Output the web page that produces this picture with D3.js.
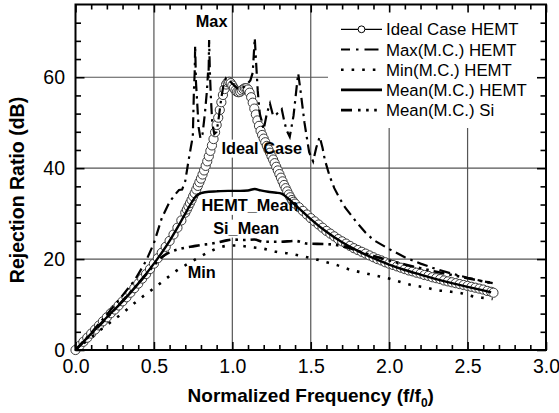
<!DOCTYPE html>
<html><head><meta charset="utf-8">
<script src="https://cdn.jsdelivr.net/npm/d3@7/dist/d3.min.js"></script>
<style>body{margin:0;background:#fff}svg{display:block}text{font-family:"Liberation Sans",Arial,sans-serif;fill:#000}</style>
</head><body><svg id="c" width="559" height="413"></svg>
<script>
// ---------- data ----------
const xMajorTicks = [0, 0.5, 1.0, 1.5, 2.0, 2.5, 3.0];
const xTickLabels = ["0.0", "0.5", "1.0", "1.5", "2.0", "2.5", "3.0"];
const xMinorTicks = [0.1,0.2,0.3,0.4,0.6,0.7,0.8,0.9,1.1,1.2,1.3,1.4,1.6,1.7,1.8,1.9,2.1,2.2,2.3,2.4,2.6,2.7,2.8,2.9];
const yMajorTicks = [0, 20, 40, 60];
const yTickLabels = ["0", "20", "40", "60"];
const yMinorTicks = [4,8,12,16,24,28,32,36,44,48,52,56,64,68,72];
const xGrid = [0.5, 1.0, 1.5, 2.0, 2.5];
const yGrid = [20, 40, 60];

const seriesNames = ["Ideal Case HEMT", "Max(M.C.) HEMT", "Min(M.C.) HEMT", "Mean(M.C.) HEMT", "Mean(M.C.) Si"];

const idealCase = [[0,0],[0.025,0.9],[0.05,1.8],[0.075,2.7],[0.1,3.6],[0.125,4.5],[0.15,5.4],[0.175,6.3],[0.2,7.2],[0.225,8.1],[0.25,8.9],[0.275,9.8],[0.3,10.7],[0.325,11.6],[0.35,12.6],[0.375,13.6],[0.4,14.6],[0.425,15.7],[0.45,16.7],[0.475,17.8],[0.5,19.0],[0.525,20.2],[0.55,21.4],[0.575,22.7],[0.6,24.0],[0.625,25.4],[0.65,26.9],[0.675,28.5],[0.7,30.2],
[0.71,30.9],[0.72,31.6],[0.73,32.3],[0.74,33.0],[0.75,33.8],[0.76,34.5],[0.77,35.3],[0.78,36.1],[0.79,36.9],[0.8,37.7],[0.81,38.6],[0.82,39.5],[0.83,40.5],[0.84,41.5],[0.85,42.6],[0.86,43.8],[0.87,45.0],[0.88,46.4],[0.89,47.9],[0.9,49.5],[0.91,51.1],[0.92,52.8],[0.93,54.5],[0.94,56.1],[0.95,57.4],[0.96,58.4],[0.97,58.9],[0.98,59.0],[0.99,58.7],[1.0,58.2],[1.01,57.6],[1.02,57.1],[1.03,56.8],[1.04,56.7],[1.05,56.8],[1.06,57.1],[1.07,57.4],[1.08,57.6],[1.09,57.6],[1.1,57.3],[1.11,56.6],[1.12,55.6],[1.13,54.4],[1.14,53.1],[1.15,51.8],[1.16,50.5],[1.17,49.3],[1.18,48.2],[1.19,47.3],[1.2,46.5],[1.21,45.7],[1.22,44.9],[1.23,44.1],[1.24,43.4],[1.25,42.6],[1.26,41.9],[1.27,41.1],[1.28,40.3],[1.29,39.5],[1.3,38.7],[1.31,37.9],[1.32,37.1],[1.33,36.3],[1.34,35.6],[1.35,34.9],[1.36,34.2],[1.37,33.6],[1.38,33.0],[1.39,32.6],[1.4,32.2],
[1.425,31.4],[1.45,30.6],[1.475,29.8],[1.5,29.0],[1.525,28.3],[1.55,27.6],[1.575,26.9],[1.6,26.2],[1.625,25.6],[1.65,25.0],[1.675,24.4],[1.7,23.9],[1.725,23.4],[1.75,22.9],[1.775,22.4],[1.8,22.0],[1.825,21.6],[1.85,21.2],[1.875,20.8],[1.9,20.4],[1.925,20.0],[1.95,19.7],[1.975,19.3],[2.0,19.0],[2.025,18.7],[2.05,18.4],[2.075,18.1],[2.1,17.8],[2.125,17.5],[2.15,17.3],[2.175,17.0],[2.2,16.8],[2.225,16.5],[2.25,16.3],[2.275,16.0],[2.3,15.8],[2.325,15.6],[2.35,15.3],[2.375,15.1],[2.4,14.9],[2.425,14.7],[2.45,14.5],[2.475,14.3],[2.5,14.1],[2.525,13.9],[2.55,13.7],[2.575,13.5],[2.6,13.3],[2.625,13.0],[2.65,12.8],[2.665,12.6]];

const maxHEMT = [[0,0],[0.1,3.8],[0.2,7.8],[0.3,12.0],[0.38,15.5],[0.45,19.6],[0.5,23.5],[0.55,29.0],[0.6,32.6],[0.64,34.4],[0.66,35.2],[0.68,35.3],[0.7,37.2],[0.72,41.5],[0.735,44.5],[0.748,47],[0.755,57],[0.76,61],[0.763,67],[0.768,59],[0.775,55],[0.785,49],[0.797,46.5],[0.81,47.5],[0.825,52],[0.838,57],[0.845,61],[0.848,59.5],[0.852,68.2],[0.857,61],[0.864,55],[0.872,50],[0.885,47.5],[0.9,48],[0.915,51.5],[0.93,55.5],[0.945,58.5],[0.96,59.8],[0.975,59.5],[1.0,58.6],[1.03,57.6],[1.06,57.5],[1.09,58.3],[1.115,59.3],[1.13,61],[1.143,68.6],[1.152,63],[1.162,57],[1.175,52],[1.2,48.5],[1.22,52],[1.24,54.2],[1.26,51.5],[1.28,51.8],[1.3,52.5],[1.315,53],[1.33,50.5],[1.345,48.4],[1.366,46.9],[1.39,51.5],[1.41,57.8],[1.42,60.8],[1.435,57],[1.46,50],[1.49,43.5],[1.515,41.5],[1.535,44.5],[1.557,46.9],[1.575,44.5],[1.59,41.8],[1.62,38.3],[1.65,35.6],[1.68,33.6],[1.72,31.3],[1.79,28.2],[1.85,25.8],[1.9,24.2],[2.0,22.2],[2.1,20.4],[2.2,19.0],[2.3,17.8],[2.4,16.8],[2.5,15.9],[2.6,15.1],[2.66,14.7]];

const minHEMT = [[0,0],[0.1,2.8],[0.2,5.5],[0.3,8.1],[0.4,11.0],[0.485,13.2],[0.56,15.2],[0.634,17.2],[0.718,19.0],[0.793,20.5],[0.878,22.0],[0.963,22.9],[1.03,23.0],[1.1,22.7],[1.196,22.3],[1.28,21.6],[1.366,21.2],[1.44,20.7],[1.515,20.1],[1.59,19.4],[1.664,18.7],[1.748,17.7],[1.833,17.0],[1.91,16.4],[1.99,15.8],[2.067,15.0],[2.14,14.3],[2.226,13.8],[2.3,13.2],[2.396,12.8],[2.46,12.5],[2.545,11.7],[2.62,11.4],[2.66,11.2]];

const meanHEMT = [[0,0],[0.1,3.6],[0.2,7.2],[0.3,10.7],[0.4,14.6],[0.5,19.0],[0.55,21.4],[0.6,24.0],[0.65,26.9],[0.7,30.0],[0.74,32.4],[0.77,33.9],[0.8,34.5],[0.825,34.7],[0.9,34.9],[0.973,35.0],[1.05,35.0],[1.1,35.1],[1.143,35.4],[1.18,35.1],[1.228,34.8],[1.28,34.6],[1.313,34.4],[1.34,33.8],[1.37,32.9],[1.4,31.9],[1.45,30.4],[1.5,28.8],[1.6,26.0],[1.7,23.7],[1.8,21.8],[1.9,20.2],[2.0,18.8],[2.1,17.6],[2.2,16.6],[2.3,15.6],[2.4,14.7],[2.5,13.9],[2.6,13.1],[2.65,12.7]];

const meanSi = [[0,0],[0.1,3.5],[0.2,7.1],[0.3,10.8],[0.4,14.6],[0.5,18.6],[0.55,20.4],[0.6,21.5],[0.65,22.1],[0.7,22.5],[0.75,22.8],[0.8,23.1],[0.87,23.4],[0.95,24.0],[1.0,24.3],[1.08,24.2],[1.14,24.3],[1.2,23.8],[1.3,23.8],[1.4,24.0],[1.48,23.4],[1.6,23.3],[1.68,23.0],[1.75,22.4],[1.8,21.8],[1.9,20.7],[2.0,19.7],[2.1,18.8],[2.2,18.0],[2.3,17.2],[2.4,16.5],[2.5,15.8],[2.6,15.1],[2.66,14.7]];

const annotations = [
  {text:"Max", x:0.767, y:71.0},
  {text:"Ideal Case", x:0.931, y:43.2},
  {text:"HEMT_Mean", x:0.804, y:30.6},
  {text:"Si_Mean", x:0.878, y:25.6},
  {text:"Min", x:0.715, y:15.8}
];

// ---------- chart ----------
const svg = d3.select("#c");
const x = d3.scaleLinear().domain([0, 3]).range([75.5, 546]);
const y = d3.scaleLinear().domain([0, 76]).range([350, 4.5]);

const gGrid = svg.append("g");
const gBoxes = svg.append("g");
const gCurves = svg.append("g");
const gAxes = svg.append("g");
const gText = svg.append("g");
const gLegend = svg.append("g");

// grid
gGrid.selectAll("line.v").data(xGrid).join("line").attr("class","v")
  .attr("x1", d => x(d)).attr("x2", d => x(d)).attr("y1", y(0)).attr("y2", y(76))
  .attr("stroke", "#555").attr("stroke-width", 1.2);
gGrid.selectAll("line.h").data(yGrid).join("line").attr("class","h")
  .attr("y1", d => y(d)).attr("y2", d => y(d)).attr("x1", x(0)).attr("x2", x(3))
  .attr("stroke", "#555").attr("stroke-width", 1.2);

// legend background (hides grid)
gGrid.append("rect").attr("x", 328).attr("y", 6).attr("width", 216).attr("height", 122).attr("fill", "#fff");

// curves
const lineLin = d3.line().x(d => x(d[0])).y(d => y(d[1]));
const lineSmooth = d3.line().x(d => x(d[0])).y(d => y(d[1])).curve(d3.curveMonotoneX);

// ideal: thin line + open circles
gCurves.append("path").datum(idealCase).attr("d", lineLin)
  .attr("fill", "none").attr("stroke", "#222").attr("stroke-width", 1);
gCurves.selectAll("circle.ideal").data(idealCase).join("circle").attr("class","ideal")
  .attr("cx", d => x(d[0])).attr("cy", d => y(d[1])).attr("r", 4.6)
  .attr("fill", "#fff").attr("stroke", "#3a3a3a").attr("stroke-width", 1);

// mean HEMT
gCurves.append("path").datum(meanHEMT).attr("d", lineSmooth)
  .attr("fill", "none").attr("stroke", "#000").attr("stroke-width", 2.4);
// max HEMT
gCurves.append("path").datum(maxHEMT).attr("d", lineLin)
  .attr("fill", "none").attr("stroke", "#000").attr("stroke-width", 2.2)
  .attr("stroke-dasharray", "11,5,2.5,5");
// min HEMT
gCurves.append("path").datum(minHEMT).attr("d", lineSmooth)
  .attr("fill", "none").attr("stroke", "#000").attr("stroke-width", 2.6)
  .attr("stroke-dasharray", "2.6,8");
// mean Si
gCurves.append("path").datum(meanSi).attr("d", lineSmooth)
  .attr("fill", "none").attr("stroke", "#000").attr("stroke-width", 2.6)
  .attr("stroke-dasharray", "11,5,2.6,5,2.6,5");

// axes (inward ticks on all sides)
function styleAxis(g) {
  g.select(".domain").remove();
  g.selectAll(".tick line").attr("stroke", "#000").attr("stroke-width", 1.6);
  g.selectAll(".tick text").attr("font-size", "19.5px").attr("fill", "#000")
    .style("font-family", '"Liberation Sans", Arial, sans-serif');
}
gAxes.append("g").attr("transform", `translate(0,${y(0)})`)
  .call(d3.axisBottom(x).tickValues(xMajorTicks).tickSize(-8).tickPadding(9.5)
    .tickFormat((d, i) => xTickLabels[i])).call(styleAxis);
gAxes.append("g").attr("transform", `translate(0,${y(0)})`)
  .call(d3.axisBottom(x).tickValues(xMinorTicks).tickSize(-5).tickFormat("")).call(styleAxis);
gAxes.append("g").attr("transform", `translate(0,${y(76)})`)
  .call(d3.axisTop(x).tickValues(xMajorTicks).tickSize(-8).tickFormat("")).call(styleAxis);
gAxes.append("g").attr("transform", `translate(0,${y(76)})`)
  .call(d3.axisTop(x).tickValues(xMinorTicks).tickSize(-5).tickFormat("")).call(styleAxis);
gAxes.append("g").attr("transform", `translate(${x(0)},0)`)
  .call(d3.axisLeft(y).tickValues(yMajorTicks).tickSize(-9).tickPadding(10.5)
    .tickFormat((d, i) => yTickLabels[i])).call(styleAxis);
gAxes.append("g").attr("transform", `translate(${x(0)},0)`)
  .call(d3.axisLeft(y).tickValues(yMinorTicks).tickSize(-5.5).tickFormat("")).call(styleAxis);
gAxes.append("g").attr("transform", `translate(${x(3)},0)`)
  .call(d3.axisRight(y).tickValues(yMajorTicks).tickSize(-9).tickFormat("")).call(styleAxis);
gAxes.append("g").attr("transform", `translate(${x(3)},0)`)
  .call(d3.axisRight(y).tickValues(yMinorTicks).tickSize(-5.5).tickFormat("")).call(styleAxis);

// frame
gAxes.append("rect").attr("x", x(0)).attr("y", y(76)).attr("width", x(3) - x(0)).attr("height", y(0) - y(76))
  .attr("fill", "none").attr("stroke", "#000").attr("stroke-width", 2);

// axis titles
gText.append("text").attr("x", (x(0) + x(3)) / 2).attr("y", 401.5).attr("text-anchor", "middle")
  .attr("font-size", "19px").attr("font-weight", "bold")
  .call(t => {
    t.append("tspan").text("Normalized Frequency (f/f");
    t.append("tspan").text("0").attr("font-size", "12px").attr("dy", 5);
    t.append("tspan").text(")").attr("dy", -5);
  });
gText.append("text").attr("transform", "translate(24,190) rotate(-90)").attr("text-anchor", "middle")
  .attr("font-size", "19.5px").attr("font-weight", "bold").text("Rejection Ratio (dB)");

// annotations (white boxes under curves)
annotations.forEach(a => {
  const t = gText.append("text").attr("x", x(a.x)).attr("y", y(a.y))
    .attr("font-size", "16.3px").attr("font-weight", "bold").text(a.text);
  const b = t.node().getBBox();
  if (a.text === "HEMT_Mean" || a.text === "Si_Mean" || a.text === "Ideal Case") {
    gBoxes.append("rect").attr("x", b.x - 1).attr("y", b.y + 1).attr("width", b.width + 2).attr("height", b.height)
      .attr("fill", "#fff");
  }
});

// legend
const legY0 = 29.3, legDy = 20.2, lx1 = 341, lx2 = 382, tx = 386;
const legStyles = [
  {w:1.2, dash:null, circle:true},
  {w:2.2, dash:"14,6,2.5,6", off:5},
  {w:2.6, dash:"2.6,8"},
  {w:2.6, dash:null},
  {w:2.6, dash:"11,6,2.6,5.5,2.6,5.5,2.6,20"}
];
seriesNames.forEach((name, i) => {
  const cy = legY0 + i * legDy, s = legStyles[i];
  const l = gLegend.append("line").attr("x1", lx1).attr("x2", lx2).attr("y1", cy).attr("y2", cy)
    .attr("stroke", "#000").attr("stroke-width", s.w);
  if (s.dash) l.attr("stroke-dasharray", s.dash);
  if (s.off) l.attr("stroke-dashoffset", s.off);
  if (s.circle) gLegend.append("circle").attr("cx", (lx1 + lx2) / 2).attr("cy", cy).attr("r", 3.4)
    .attr("fill", "#fff").attr("stroke", "#000").attr("stroke-width", 1);
  gLegend.append("text").attr("x", tx).attr("y", cy + 6).attr("font-size", "16.8px").text(name);
});
</script></body></html>
